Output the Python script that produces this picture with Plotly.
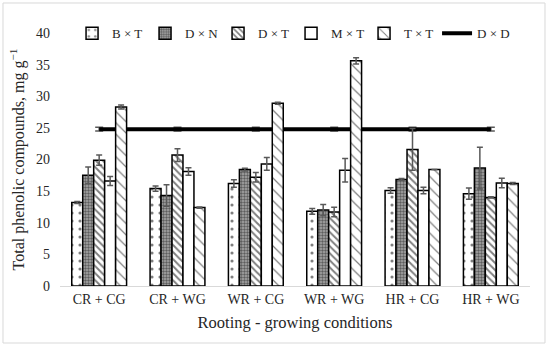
import plotly.graph_objects as go

categories = ["CR + CG", "CR + WG", "WR + CG", "WR + WG", "HR + CG", "HR + WG"]

BxT = [13.2, 15.4, 16.2, 11.8, 15.1, 14.6]
BxT_err = [0.15, 0.4, 0.6, 0.45, 0.45, 0.9]
DxN = [17.5, 14.3, 18.4, 12.0, 16.85, 18.65]
DxN_err = [1.3, 1.7, 0.2, 0.9, 0.15, 3.3]
DxT = [19.9, 20.7, 17.2, 11.7, 21.6, 14.0]
DxT_err = [0.8, 1.0, 0.75, 0.75, 3.3, 0.1]
MxT = [16.6, 18.1, 19.3, 18.3, 15.1, 16.3]
MxT_err = [0.7, 0.6, 1.0, 1.85, 0.5, 0.75]
TxT = [28.3, 12.4, 28.9, 35.6, 18.4, 16.2]
TxT_err = [0.3, 0.1, 0.15, 0.5, 0.0, 0.15]
DxD = [24.8, 24.8, 24.8, 24.8, 24.8, 24.8]
DxD_err = [0.3, 0.3, 0.3, 0.3, 0.3, 0.3]

FONT = "Liberation Serif"
ERR_COLOR = "#595959"

fig = go.Figure()

# D x D line on the base axes (drawn behind the bars)
fig.add_trace(go.Scatter(
    x=categories, y=DxD, name="D × D", mode="lines",
    line=dict(color="black", width=4),
    error_y=dict(type="data", array=DxD_err, color=ERR_COLOR, thickness=1.5, width=4),
    xaxis="x", yaxis="y", legendrank=6,
))

bar_specs = [
    ("B × T", BxT, BxT_err, dict(shape=".", fgcolor="black", bgcolor="white", size=8, solidity=0.12)),
    ("D × N", DxN, DxN_err, dict(shape=".", fgcolor="#111111", bgcolor="#a8a8a8", size=3, solidity=0.5)),
    ("D × T", DxT, DxT_err, dict(shape="\\", fgcolor="black", bgcolor="white", size=5, solidity=0.4)),
    ("M × T", MxT, MxT_err, dict(shape="", bgcolor="white")),
    ("T × T", TxT, TxT_err, dict(shape="\\", fgcolor="black", bgcolor="white", size=8, solidity=0.15)),
]
for i, (name, vals, errs, pat) in enumerate(bar_specs):
    fig.add_trace(go.Bar(
        x=categories, y=vals, name=name,
        marker=dict(color="white", line=dict(color="black", width=1.5), pattern=pat),
        error_y=dict(type="data", array=errs, color=ERR_COLOR, thickness=1.5, width=3),
        xaxis="x2", yaxis="y2", legendrank=i + 1,
    ))

fig.update_layout(
    width=550, height=346,
    margin=dict(l=60, r=20, t=33, b=60, autoexpand=False),
    paper_bgcolor="white", plot_bgcolor="white",
    font=dict(family=FONT, size=14, color="#262626"),
    barmode="group", bargap=0.3, bargroupgap=0,
    showlegend=True,
    legend=dict(orientation="h", xref="container", yref="container",
                x=0.131, xanchor="left", y=0.904, yanchor="middle",
                font=dict(family=FONT, size=13), itemwidth=30,
                entrywidth=28, entrywidthmode="pixels", traceorder="normal",
                bgcolor="rgba(0,0,0,0)"),
    xaxis=dict(type="category", categoryarray=categories, range=[-0.5, 5.5],
               showline=True, linecolor="#d9d9d9", linewidth=1, showgrid=False,
               ticks="", ticklabelstandoff=0, tickfont=dict(size=14), automargin=False,
               title=dict(text="Rooting - growing conditions", font=dict(size=16.5), standoff=10)),
    yaxis=dict(range=[0, 40], dtick=5, showgrid=False, zeroline=False, showline=False,
               ticks="", ticklabelstandoff=9, tickfont=dict(size=14), automargin=False,
               title=dict(text="Total phenolic compounds, mg g<sup>−1</sup>", font=dict(size=16), standoff=7)),
    xaxis2=dict(type="category", categoryarray=categories, range=[-0.5, 5.5],
                overlaying="x", visible=False),
    yaxis2=dict(range=[0, 40], overlaying="y", visible=False),
    shapes=[dict(type="rect", xref="paper", yref="paper",
                 x0=-0.1213, x1=1.0319, y0=-0.2253, y1=1.1186,
                 line=dict(color="#d9d9d9", width=1), layer="below")],
)

fig.write_html("out.html", config={"displayModeBar": False},
               post_script="document.body.style.margin='0';document.body.style.overflow='hidden';")
